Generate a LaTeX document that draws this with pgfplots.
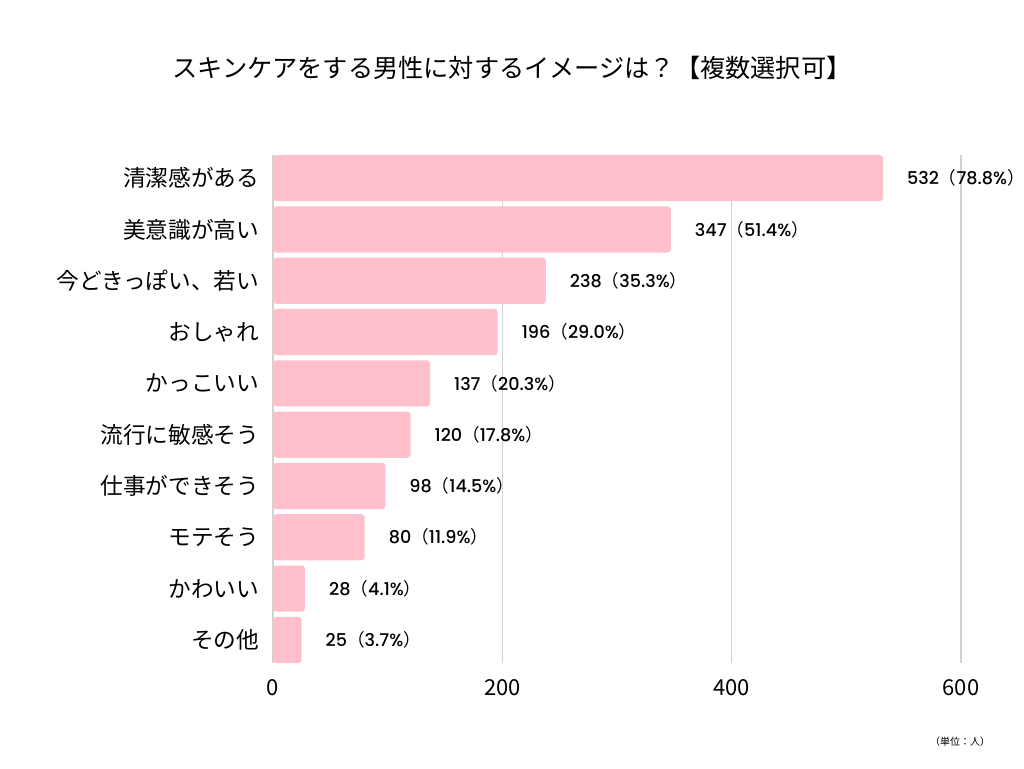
\documentclass[border=0pt]{standalone}
\usepackage{fontspec}
\setmainfont{Noto Sans CJK JP}
\newfontfamily\pop{Poppins Medium}
\usepackage{pgfplots}
\pgfplotsset{compat=1.18}
\usepackage{pgfplotstable}
\definecolor{barpink}{RGB}{255,192,203}
\definecolor{gridgray}{RGB}{210,210,210}

\pgfplotstableread{
pos val pct
9 532 78.8
8 347 51.4
7 238 35.3
6 196 29.0
5 137 20.3
4 120 17.8
3 98 14.5
2 80 11.9
1 28 4.1
0 25 3.7
}\data

\begin{document}
\begin{tikzpicture}
\begin{axis}[
  at={(0pt,0pt)}, anchor=south west,
  scale only axis, width=550.4pt, height=381pt,
  xmin=0, xmax=640, ymin=-0.45, ymax=9.45,
  xbar, bar width=0.9, bar shift=0pt,
  axis line style={draw=none}, tick style={draw=none},
  xtick={0,200,400,600},
  xmajorgrids, grid style={draw=gridgray, line width=0.9pt},
  ytick={0,...,9},
  yticklabels={その他,かわいい,モテそう,仕事ができそう,流行に敏感そう,かっこいい,おしゃれ,今どきっぽい、若い,美意識が高い,清潔感がある},
  yticklabel style={font=\fontsize{17}{20}\selectfont, xshift=-2.5pt},
  xticklabel style={font=\fontsize{16.5}{20}\selectfont, yshift=-9pt},
  /pgf/number format/assume math mode=true,
  clip=false,
  point meta=explicit symbolic,
  visualization depends on={x \as \myx},
  nodes near coords={{\pop\pgfmathprintnumber{\myx}}（{\pop\pgfplotspointmeta\%}）},
  nodes near coords style={font=\fontsize{13.2}{15}\selectfont, anchor=west, xshift=14.5pt},
]
\addplot[fill=barpink, draw=none, rounded corners=2.5pt] table[x=val, y=pos, meta=pct] {\data};
\end{axis}
\node[font=\fontsize{18.9}{22}\selectfont] at (179.25pt,446.25pt) {スキンケアをする男性に対するイメージは？【複数選択可】};
\node[font=\fontsize{7.5}{9}\selectfont] at (515.25pt,-59.25pt) {（単位：人）};
\pgfresetboundingbox
\path[use as bounding box] (-204.75pt,-78.75pt) rectangle (563.25pt,497.25pt);
\end{tikzpicture}
\end{document}
